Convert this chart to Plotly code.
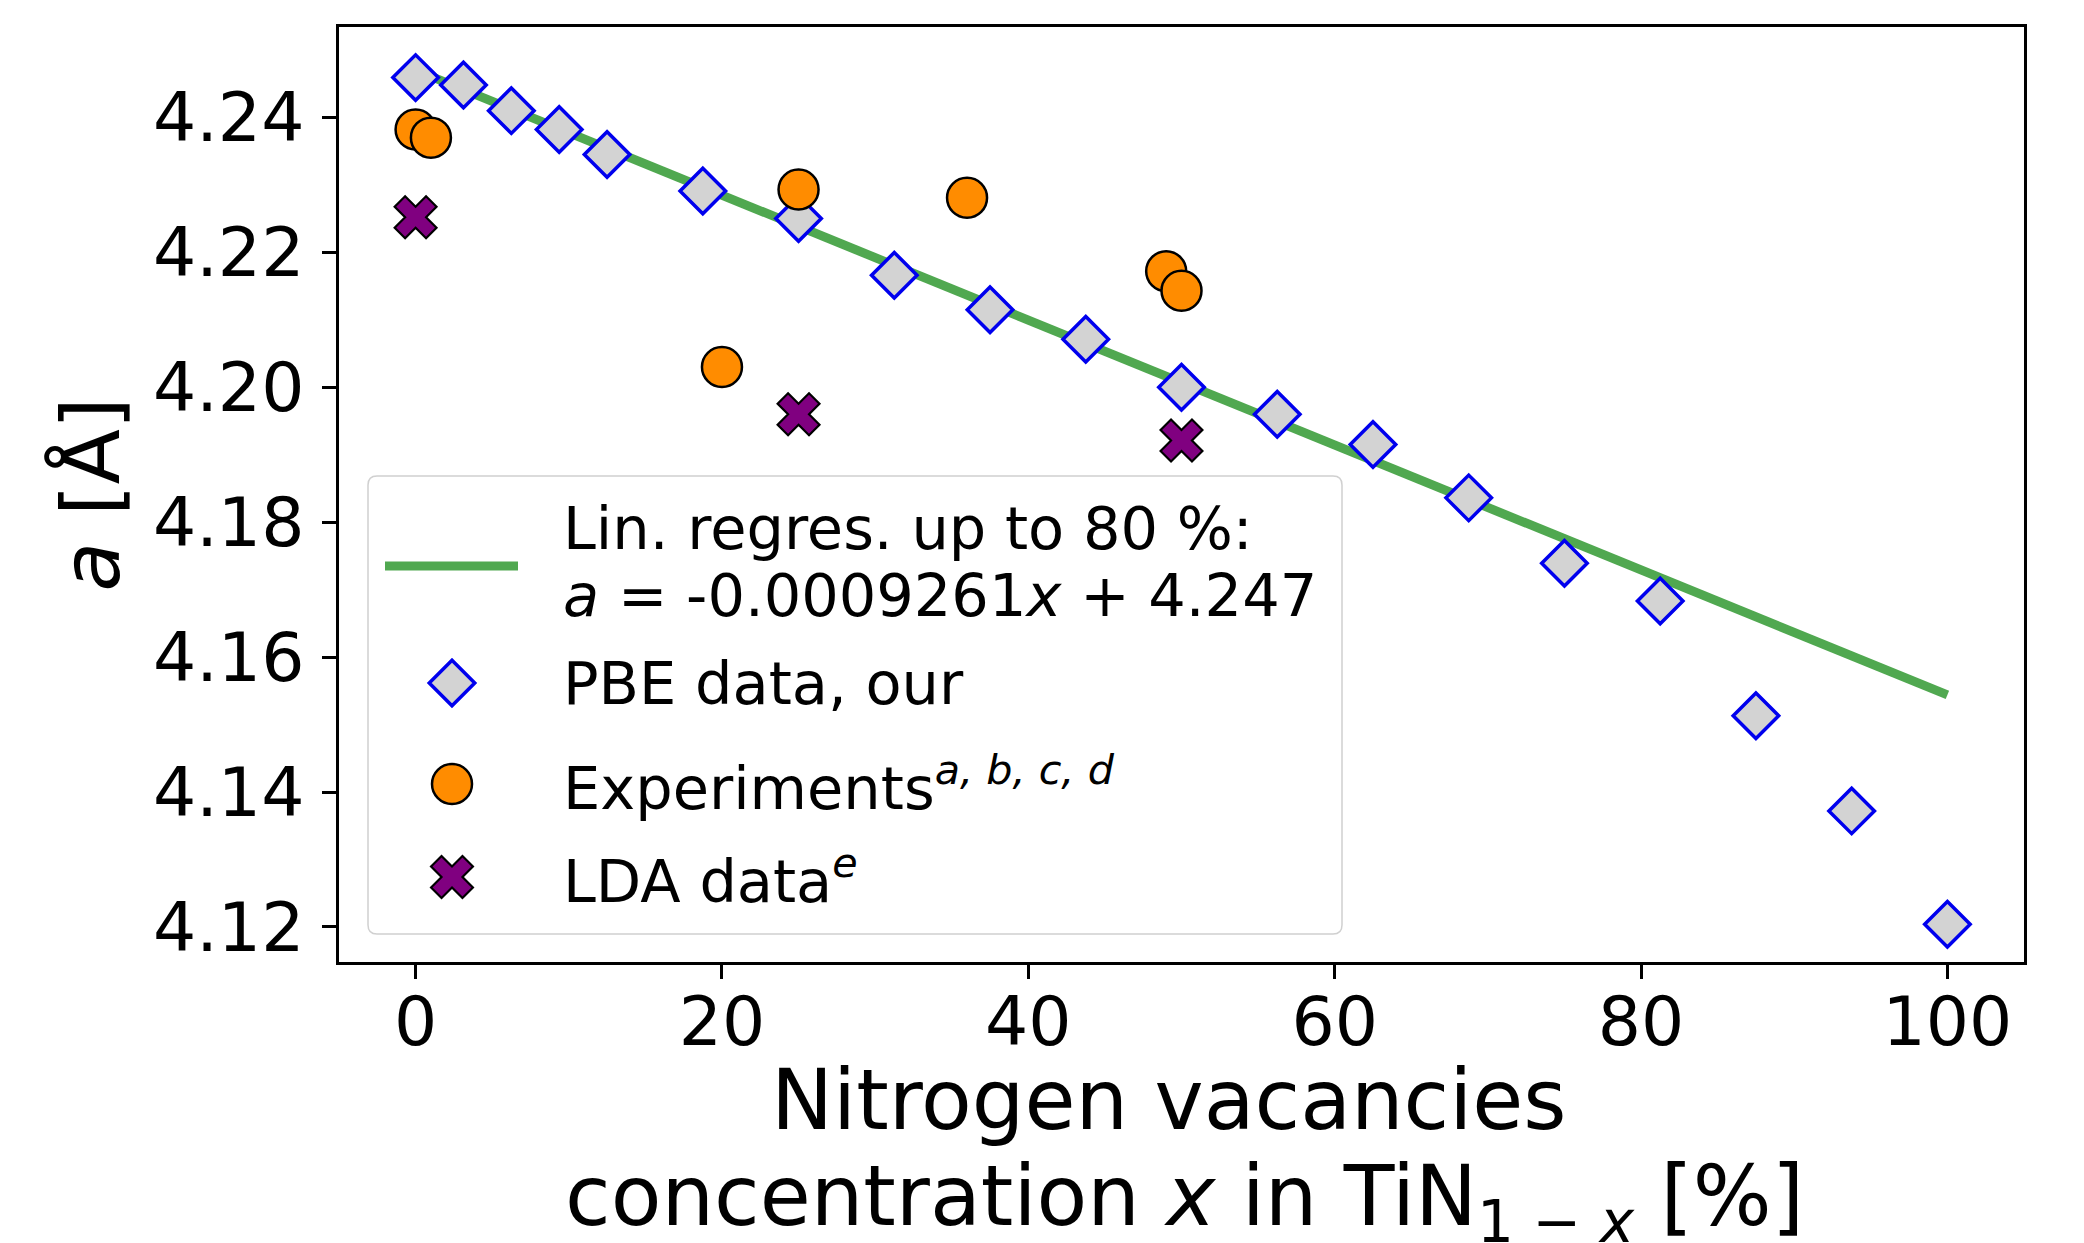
import plotly.graph_objects as go

# ---------------- data ----------------
pbe_x = [0, 3.125, 6.25, 9.375, 12.5, 18.75, 25, 31.25, 37.5, 43.75, 50,
         56.25, 62.5, 68.75, 75, 81.25, 87.5, 93.75, 100]
pbe_a = [4.2459, 4.2448, 4.2410, 4.2382, 4.2345, 4.2291, 4.2250, 4.2166,
         4.2115, 4.2071, 4.2000, 4.1960, 4.1915, 4.1836, 4.1739, 4.1683,
         4.1513, 4.1372, 4.1204]
exp_x = [0, 1, 20, 25, 36, 49, 50]
exp_a = [4.2382, 4.2370, 4.2030, 4.2293, 4.2281, 4.2172, 4.2143]
lda_x = [0, 25, 50]
lda_a = [4.2252, 4.1960, 4.1921]
fit_slope = -0.0009261
fit_intercept = 4.247
fit_x = [0, 100]
fit_a = [fit_slope * v + fit_intercept for v in fit_x]

x_ticks = [0, 20, 40, 60, 80, 100]
y_ticks = [4.12, 4.14, 4.16, 4.18, 4.20, 4.22, 4.24]

legend_labels = [
    "Lin. regres. up to 80 %:",
    "<i>a</i> = -0.0009261<i>x</i> + 4.247",
    "PBE data, our",
    "Experiments<sup><i>a, b, c, d</i></sup>",
    "LDA data<sup><i>e</i></sup>",
]
x_title_lines = [
    "Nitrogen vacancies",
    "concentration <i>x</i> in TiN<sub>1 − <i>x</i></sub> [%]",
]
y_title = "<i>a</i> [Å]"

# ---------------- style ----------------
FONT = "DejaVu Sans"
GREEN = "#50a850"
ORANGE = "#ff8c00"
PURPLE = "#800080"
BLUE = "#0000ee"
GRAY = "#d3d3d3"

DIAMOND = dict(symbol="diamond", size=35, color=GRAY, line=dict(color=BLUE, width=3.5))
CIRCLE = dict(symbol="circle", size=40, color=ORANGE, line=dict(color="black", width=2.5))
CROSS = dict(symbol="x", size=37, color=PURPLE, line=dict(color="black", width=2.2))

W, H = 2084, 1243
ML, MR, MT, MB = 339, 60, 27, 281
PW, PH = W - ML - MR, H - MT - MB

fig = go.Figure()

fig.add_trace(go.Scatter(x=fit_x, y=fit_a, mode="lines",
                         line=dict(color=GREEN, width=9), showlegend=False,
                         hoverinfo="skip"))
fig.add_trace(go.Scatter(x=pbe_x, y=pbe_a, mode="markers", marker=DIAMOND,
                         showlegend=False))
fig.add_trace(go.Scatter(x=exp_x, y=exp_a, mode="markers", marker=CIRCLE,
                         showlegend=False))
fig.add_trace(go.Scatter(x=lda_x, y=lda_a, mode="markers", marker=CROSS,
                         showlegend=False))

# ---------------- manual legend ----------------
def px2fx(px):
    return (px - ML) / PW

def py2fy(py):
    return (MT + PH - py) / PH

bx0, bx1, by0, by1 = px2fx(368), px2fx(1342), py2fy(934), py2fy(476)
rx, ry = 9 / PW, 9 / PH
path = (f"M{bx0+rx},{by0} L{bx1-rx},{by0} Q{bx1},{by0} {bx1},{by0+ry} "
        f"L{bx1},{by1-ry} Q{bx1},{by1} {bx1-rx},{by1} L{bx0+rx},{by1} "
        f"Q{bx0},{by1} {bx0},{by1-ry} L{bx0},{by0+ry} Q{bx0},{by0} {bx0+rx},{by0} Z")
shapes = [
    dict(type="path", path=path, xref="paper", yref="paper", layer="below",
         fillcolor="rgba(255,255,255,0.8)", line=dict(color="#d0d0d0", width=1.5)),
    dict(type="line", xref="paper", yref="paper", layer="below",
         x0=px2fx(385), x1=px2fx(518), y0=py2fy(566), y1=py2fy(566),
         line=dict(color=GREEN, width=9)),
]

key_x = px2fx(452)
key_rows = [py2fy(683), py2fy(784), py2fy(877)]
for mk, ky in zip([DIAMOND, CIRCLE, CROSS], key_rows):
    fig.add_trace(go.Scatter(x=[key_x], y=[ky], xaxis="x2", yaxis="y2",
                             mode="markers", showlegend=False, hoverinfo="skip",
                             marker=mk))

text_x = px2fx(561)
text_rows = [py2fy(528), py2fy(595), py2fy(683), py2fy(784), py2fy(877)]
annotations = []
for lbl, ty in zip(legend_labels, text_rows):
    annotations.append(dict(text=lbl, x=text_x, y=ty, xref="paper", yref="paper",
                            xanchor="left", yanchor="middle", showarrow=False,
                            font=dict(family=FONT, size=59, color="black")))

# axis titles (x title as two separately placed lines)
annotations.append(dict(
    text=x_title_lines[0], x=0.5, y=0, xref="paper", yref="paper",
    xanchor="center", yanchor="middle", yshift=-(1100 - (MT + PH)), xshift=-13,
    showarrow=False, font=dict(family=FONT, size=83, color="black")))
annotations.append(dict(
    text=x_title_lines[1], x=0.5, y=0, xref="paper", yref="paper",
    xanchor="center", yanchor="top", yshift=-(1146 - (MT + PH)), xshift=3,
    showarrow=False, font=dict(family=FONT, size=83, color="black")))
annotations.append(dict(
    text=y_title, x=0, y=0.5, xref="paper", yref="paper",
    xanchor="center", yanchor="middle", xshift=90 - ML, textangle=-90,
    showarrow=False, font=dict(family=FONT, size=81, color="black")))

axis_common = dict(showgrid=False, zeroline=False, showline=True, mirror=True,
                   linecolor="black", linewidth=3, ticks="outside", ticklen=14,
                   tickwidth=3, tickcolor="black",
                   tickfont=dict(family=FONT, size=68, color="black"))

fig.update_layout(
    width=W, height=H,
    margin=dict(l=ML, r=MR, t=MT, b=MB, pad=0),
    paper_bgcolor="white", plot_bgcolor="white",
    xaxis=dict(range=[-5, 105], tickvals=x_ticks, ticktext=[str(v) for v in x_ticks],
               ticklabelstandoff=-16, **axis_common),
    yaxis=dict(range=[4.1148, 4.2534], tickvals=y_ticks,
               ticktext=[f"{v:.2f}" for v in y_ticks], ticklabelstandoff=4,
               **axis_common),
    xaxis2=dict(overlaying="x", range=[0, 1], visible=False),
    yaxis2=dict(overlaying="y", range=[0, 1], visible=False),
    shapes=shapes,
    annotations=annotations,
    showlegend=False,
)

fig.write_html("out.html")
